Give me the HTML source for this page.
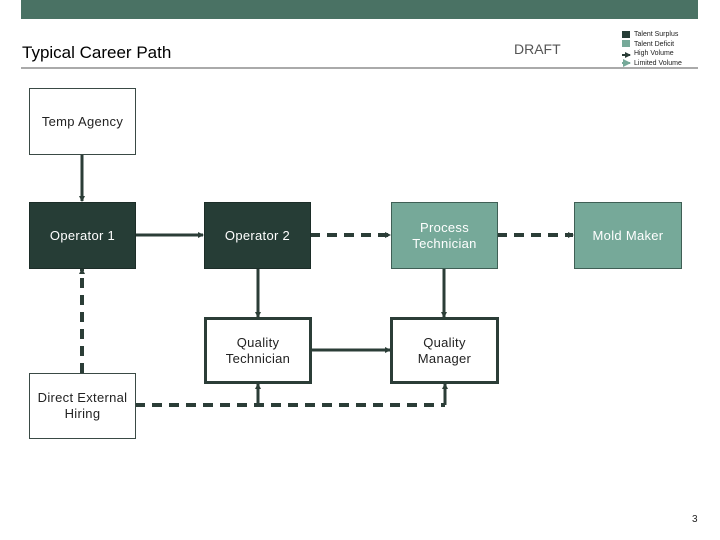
<!DOCTYPE html>
<html><head><meta charset="utf-8"><style>
body{margin:0;width:720px;height:540px;background:#fff;position:relative;font-family:"Liberation Sans",sans-serif;overflow:hidden}
.a{position:absolute}
.box{position:absolute;box-sizing:border-box;display:flex;align-items:center;justify-content:center;text-align:center;font-size:13px;line-height:16px;letter-spacing:0.3px}
.w{border:1px solid #3a4a45;background:#fff;color:#222}
.t{border:3px solid #2b3d37;background:#fff;color:#222}
.d{background:#263d36;border:1px solid #1c2d28;color:#fff}
.l{background:#76a999;border:1px solid #3f5f55;color:#fff}
</style></head><body>
<div class="a" style="left:21px;top:0;width:677px;height:19px;background:#4a7264"></div>
<div class="a" style="left:21px;top:67px;width:677px;height:2px;background:#aaa"></div>
<div class="a" style="left:22px;top:43px;font-size:17px;color:#000">Typical Career Path</div>
<div class="a" style="left:514px;top:41px;font-size:14px;color:#555">DRAFT</div>
<div class="a" style="left:622px;top:31px;width:8px;height:7px;background:#263d36"></div>
<div class="a" style="left:622px;top:40px;width:8px;height:7px;background:#76a999"></div>
<div class="a" style="left:634px;top:30px;font-size:7px;line-height:9.5px;color:#222">Talent Surplus<br>Talent Deficit<br>High Volume<br>Limited Volume</div>
<svg class="a" style="left:0;top:0" width="720" height="540">
<defs>
<marker id="m" markerWidth="6" markerHeight="6" refX="5" refY="3" orient="auto" markerUnits="userSpaceOnUse"><path d="M0,0 L6,3 L0,6z" fill="#2b3d37"/></marker>
<marker id="m2" markerWidth="8" markerHeight="8" refX="7" refY="4" orient="auto" markerUnits="userSpaceOnUse"><path d="M0,0 L8,4 L0,8z" fill="#76a999"/></marker>
</defs>
<g stroke="#2b3d37" stroke-width="3" fill="none">
<line x1="622" y1="55" x2="630" y2="55" marker-end="url(#m)" stroke-width="2"/>
<line x1="82" y1="154" x2="82" y2="201" marker-end="url(#m)"/>
<line x1="135" y1="235" x2="203" y2="235" marker-end="url(#m)"/>
<line x1="258" y1="268" x2="258" y2="317" marker-end="url(#m)"/>
<line x1="444" y1="268" x2="444" y2="317" marker-end="url(#m)"/>
<line x1="311" y1="350" x2="390" y2="350" marker-end="url(#m)"/>
<g stroke-dasharray="10,7" stroke-width="4">
<line x1="310" y1="235" x2="390" y2="235" marker-end="url(#m)"/>
<line x1="497" y1="235" x2="573" y2="235" marker-end="url(#m)"/>
<line x1="82" y1="373" x2="82" y2="269" marker-end="url(#m)"/>
<line x1="135" y1="405" x2="445" y2="405"/>
</g>
<line x1="258" y1="405" x2="258" y2="384" marker-end="url(#m)"/>
<line x1="445" y1="405" x2="445" y2="384" marker-end="url(#m)"/>
</g>
<line x1="622" y1="63" x2="630" y2="63" stroke="#76a999" stroke-width="2" marker-end="url(#m2)"/>
</svg>
<div class="box w" style="left:29px;top:88px;width:107px;height:67px">Temp Agency</div>
<div class="box d" style="left:29px;top:202px;width:107px;height:67px">Operator 1</div>
<div class="box d" style="left:204px;top:202px;width:107px;height:67px">Operator 2</div>
<div class="box l" style="left:391px;top:202px;width:107px;height:67px">Process<br>Technician</div>
<div class="box l" style="left:574px;top:202px;width:108px;height:67px">Mold Maker</div>
<div class="box t" style="left:204px;top:317px;width:108px;height:67px">Quality<br>Technician</div>
<div class="box t" style="left:390px;top:317px;width:109px;height:67px">Quality<br>Manager</div>
<div class="box w" style="left:29px;top:373px;width:107px;height:66px">Direct External<br>Hiring</div>
<div class="a" style="left:692px;top:514px;font-size:10px;color:#222">3</div>
</body></html>
